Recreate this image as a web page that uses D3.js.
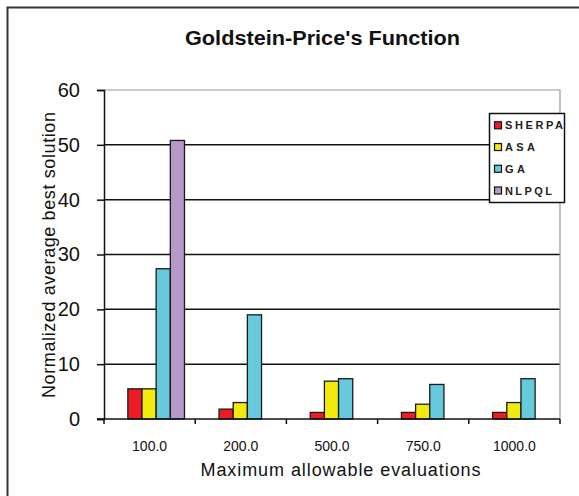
<!DOCTYPE html>
<html>
<head>
<meta charset="utf-8">
<script src="https://cdn.jsdelivr.net/npm/d3@7"></script>
<style>
  html, body { margin: 0; padding: 0; background: #fff; }
  svg { display: block; font-family: "Liberation Sans", Arial, sans-serif; }
</style>
</head>
<body>
<svg id="chart" width="579" height="496"></svg>
<script>
// Categories (maximum allowable evaluations) and per-algorithm results
const categories = ["100.0", "200.0", "500.0", "750.0", "1000.0"];
const seriesNames = ["SHERPA", "ASA", "GA", "NLPQL"];
const sherpa = [5.5, 1.8, 1.2, 1.2, 1.2];
const asa    = [5.5, 3.0, 6.9, 2.7, 3.0];
const ga     = [27.4, 19.0, 7.35, 6.3, 7.35];
const nlpql  = [50.8, null, null, null, null];
const yTicks = [0, 10, 20, 30, 40, 50, 60];

const seriesValues = [sherpa, asa, ga, nlpql];
const colors = ["#ED1C24", "#F2EA0C", "#66CADC", "#B898C8"];

const svg = d3.select("#chart");

// Outer chart frame
svg.append("rect")
  .attr("x", 7.5).attr("y", 7.5)
  .attr("width", 600).attr("height", 520)
  .attr("fill", "none").attr("stroke", "#333").attr("stroke-width", 2);

const plot = { left: 104, right: 560, top: 90, bottom: 419 };

const x = d3.scaleBand().domain(categories).range([plot.left, plot.right]).padding(0);
const xs = d3.scaleBand().domain(seriesNames).range([0, x.bandwidth()])
  .paddingInner(0).paddingOuter(1.22).align(0.69);
const y = d3.scaleLinear().domain([0, 60]).range([plot.bottom, plot.top]);

// Horizontal gridlines
svg.append("g").selectAll("line")
  .data(yTicks.filter(t => t > 0 && t < 60))
  .join("line")
  .attr("x1", plot.left).attr("x2", plot.right)
  .attr("y1", d => y(d)).attr("y2", d => y(d))
  .attr("stroke", "#111").attr("stroke-width", 1.5);

// Plot area border (top and right)
svg.append("path")
  .attr("d", `M${plot.left},${y(60)}H${plot.right}V${plot.bottom}`)
  .attr("fill", "none").attr("stroke", "#999").attr("stroke-width", 1.2);

// Bars
const rows = [];
seriesValues.forEach((vals, si) => {
  vals.forEach((v, ci) => {
    if (v != null) rows.push({ s: seriesNames[si], c: categories[ci], v, color: colors[si] });
  });
});
svg.append("g").selectAll("rect")
  .data(rows)
  .join("rect")
  .attr("x", d => x(d.c) + xs(d.s))
  .attr("y", d => y(d.v))
  .attr("width", xs.bandwidth())
  .attr("height", d => y(0) - y(d.v))
  .attr("fill", d => d.color)
  .attr("stroke", "#1a1a1a").attr("stroke-width", 1.3);

// Y axis
const yAxis = svg.append("g")
  .attr("transform", `translate(${plot.left},0)`)
  .call(d3.axisLeft(y).tickValues(yTicks).tickSize(7).tickPadding(17).tickFormat(d3.format("d")));
yAxis.select(".domain").attr("stroke", "#111").attr("stroke-width", 1.5);
yAxis.selectAll(".tick line").attr("stroke", "#111").attr("stroke-width", 1.5);
yAxis.selectAll("text").attr("font-size", 20).attr("fill", "#111")
  .attr("font-family", "'Liberation Sans', Arial, sans-serif");

// X axis: labels centred in each band
const xAxis = svg.append("g")
  .attr("transform", `translate(0,${plot.bottom})`)
  .call(d3.axisBottom(x).tickSizeInner(0).tickSizeOuter(0).tickPadding(22));
xAxis.select(".domain").remove();
xAxis.selectAll("text").attr("font-size", 14).attr("fill", "#111")
  .attr("font-family", "'Liberation Sans', Arial, sans-serif");

// X axis line and band-boundary ticks
svg.append("line")
  .attr("x1", plot.left - 7).attr("x2", plot.right)
  .attr("y1", plot.bottom).attr("y2", plot.bottom)
  .attr("stroke", "#111").attr("stroke-width", 1.5);
const boundaries = categories.map(c => x(c)).concat([plot.right]);
svg.append("g").selectAll("line")
  .data(boundaries)
  .join("line")
  .attr("x1", d => d).attr("x2", d => d)
  .attr("y1", plot.bottom).attr("y2", plot.bottom + 5)
  .attr("stroke", "#111").attr("stroke-width", 1.5);

// Title
svg.append("text")
  .attr("x", 322.5).attr("y", 45)
  .attr("text-anchor", "middle")
  .attr("font-size", 20).attr("font-weight", "bold")
  .attr("textLength", 275).attr("lengthAdjust", "spacingAndGlyphs")
  .attr("fill", "#111")
  .text("Goldstein-Price's Function");

// Axis titles
svg.append("text")
  .attr("x", 340.5).attr("y", 476)
  .attr("text-anchor", "middle")
  .attr("font-size", 18)
  .attr("textLength", 280).attr("lengthAdjust", "spacing")
  .attr("fill", "#111")
  .text("Maximum allowable evaluations");

svg.append("text")
  .attr("transform", "translate(55,255) rotate(-90)")
  .attr("text-anchor", "middle")
  .attr("font-size", 18)
  .attr("textLength", 286).attr("lengthAdjust", "spacing")
  .attr("fill", "#111")
  .text("Normalized average best solution");

// Legend
const legend = svg.append("g");
legend.append("rect")
  .attr("x", 489.5).attr("y", 113.5)
  .attr("width", 75).attr("height", 89)
  .attr("fill", "#fff").attr("stroke", "#111").attr("stroke-width", 1.5);
const legendTextLen = [58, 30, 20, 47];
const ly = d3.scalePoint().domain(seriesNames).range([125.3, 190.5]);
const items = legend.selectAll("g.item")
  .data(seriesNames)
  .join("g").attr("class", "item")
  .attr("transform", d => `translate(0,${ly(d)})`);
items.append("rect")
  .attr("x", 494.5).attr("y", -3.5)
  .attr("width", 7).attr("height", 7)
  .attr("fill", (d, i) => colors[i])
  .attr("stroke", "#111").attr("stroke-width", 1.2);
items.append("text")
  .attr("x", 505).attr("y", 4)
  .attr("font-size", 11).attr("font-weight", "bold")
  .attr("textLength", (d, i) => legendTextLen[i]).attr("lengthAdjust", "spacing")
  .attr("fill", "#222")
  .text(d => d);
</script>
</body>
</html>
